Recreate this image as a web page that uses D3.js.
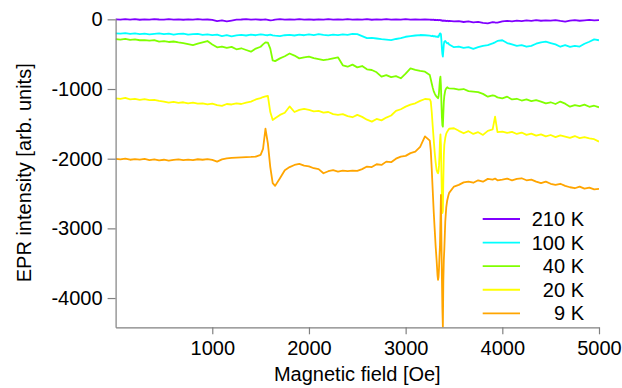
<!DOCTYPE html>
<html><head><meta charset="utf-8">
<script src="https://cdn.jsdelivr.net/npm/d3@7"></script>
<style>
body{margin:0;background:#fff;}
text{font-family:"Liberation Sans",Arial,sans-serif;}
</style></head>
<body><svg id="chart" width="622" height="388"></svg>
<script>
// Magnetic field sampling grid [Oe]
const field = [
  0,50,100,150,200,250,300,350,400,450,
  500,550,600,650,700,750,800,850,900,950,
  1000,1050,1100,1150,1200,1250,1300,1350,1400,1450,
  1500,1525,1550,1575,1600,1625,1650,
  1700,1750,1800,1850,1900,1950,2000,2050,2100,2150,
  2200,2250,2300,2350,2400,2450,2500,2550,2600,2650,
  2700,2750,2800,2850,2900,2950,3000,3050,3100,3150,
  3200,3250,
  3260,3270,3280,3290,3300,3310,3320,3330,3335,
  3340,3345,3350,3355,3360,3365,3370,3375,3380,
  3385,3390,3395,3400,3410,3420,3430,3440,3450,
  3500,3550,3600,3650,3700,3750,3800,3850,3900,3925,
  3950,4000,4050,4100,4150,4200,4250,4300,4350,4400,
  4450,4500,4550,4600,4650,4700,4750,4800,4850,4900,
  4950,5000
];
const seriesNames = ["210 K","100 K","40 K","20 K","9 K"];
const seriesColors = ["#8000ff","#00ffff","#80ff00","#ffff00","#ffa500"];
const epr210K = [
  0,-5,3,-4,2,-6,0,-3,4,-2,
  -5,2,-3,0,-6,1,-4,2,-5,-2,
  -8,-25,-15,-30,-18,-5,-2,3,-4,0,
  -6,-3,-2,-8,-15,-12,-5,
  2,-3,0,-5,2,-4,0,-6,1,-3,
  3,-4,0,-5,2,-3,0,-4,2,-6,
  0,-3,3,-5,0,-4,2,-3,0,-5,
  -2,-4,
  -6,-3,-8,-5,-10,-6,-12,-8,-10,
  -14,-10,-12,-8,-15,-10,-14,-18,-22,
  -15,-20,-16,-22,-18,-25,-20,-28,-22,
  -30,-25,-38,-30,-42,-35,-50,-57,-40,-45,
  -48,-30,-22,-28,-18,-25,-15,-22,-12,-20,
  -14,-18,-10,-22,-32,-18,-12,-20,-14,-8,
  -15,-10
];
const epr100K = [
  -200,-205,-198,-210,-202,-212,-205,-215,-208,-200,
  -212,-205,-218,-210,-205,-220,-212,-208,-222,-215,
  -225,-218,-240,-228,-245,-230,-222,-232,-220,-228,
  -215,-220,-225,-228,-218,-230,-235,
  -240,-228,-222,-232,-220,-228,-215,-225,-212,-222,
  -230,-218,-228,-215,-222,-210,-212,-240,-270,-265,
  -275,-285,-290,-297,-282,-270,-250,-240,-232,-225,
  -228,-235,
  -238,-242,-235,-245,-240,-248,-250,-245,-255,
  -250,-235,-215,-200,-200,-215,-300,-420,-500,
  -536,-450,-360,-320,-310,-330,-345,-340,-360,
  -400,-390,-410,-400,-425,-400,-380,-370,-345,-330,
  -310,-300,-340,-360,-380,-370,-393,-380,-350,-330,
  -321,-340,-360,-393,-370,-395,-380,-390,-350,-321,
  -287,-300
];
const epr40K = [
  -283,-290,-280,-295,-288,-300,-297,-305,-298,-320,
  -312,-325,-318,-330,-340,-355,-369,-350,-330,-311,
  -360,-402,-390,-410,-395,-430,-415,-440,-464,-420,
  -393,-360,-330,-335,-420,-590,-600,
  -560,-530,-490,-520,-560,-545,-536,-555,-570,-584,
  -575,-560,-545,-660,-680,-650,-689,-670,-717,-727,
  -760,-823,-800,-830,-815,-846,-780,-703,-725,-740,
  -751,-800,
  -860,-920,-980,-1030,-1062,-1090,-1110,-1125,-1133,
  -1110,-1050,-950,-860,-823,-950,-1200,-1400,-1520,
  -1540,-1350,-1180,-1100,-1020,-990,-975,-985,-990,
  -995,-1010,-1000,-1030,-1038,-1045,-1070,-1110,-1090,-1100,
  -1120,-1133,-1110,-1150,-1140,-1165,-1150,-1175,-1160,-1180,
  -1205,-1190,-1215,-1180,-1210,-1253,-1230,-1245,-1225,-1255,
  -1240,-1262
];
const epr20K = [
  -1133,-1140,-1128,-1148,-1140,-1155,-1145,-1160,-1157,-1170,
  -1180,-1196,-1185,-1198,-1190,-1205,-1195,-1210,-1205,-1220,
  -1210,-1230,-1243,-1215,-1222,-1205,-1215,-1196,-1180,-1150,
  -1130,-1115,-1105,-1100,-1330,-1444,-1420,
  -1372,-1340,-1250,-1330,-1300,-1285,-1300,-1320,-1315,-1340,
  -1330,-1360,-1372,-1360,-1390,-1405,-1372,-1400,-1440,-1468,
  -1430,-1450,-1410,-1380,-1315,-1290,-1253,-1225,-1205,-1170,
  -1143,-1150,
  -1180,-1330,-1530,-1720,-1900,-2050,-2161,-2200,-2209,
  -2180,-2100,-1950,-1750,-1650,-1800,-2200,-2550,-2780,
  -2750,-2300,-1950,-1802,-1700,-1640,-1612,-1590,-1570,
  -1563,-1600,-1635,-1605,-1645,-1620,-1659,-1600,-1580,-1397,
  -1620,-1612,-1630,-1615,-1645,-1625,-1659,-1640,-1670,-1650,
  -1680,-1660,-1690,-1665,-1683,-1700,-1675,-1705,-1690,-1707,
  -1720,-1755
];
const epr9K = [
  -2003,-2010,-1998,-2015,-2005,-2012,-2003,-2020,-2010,-2025,
  -2015,-2027,-2018,-2010,-2022,-2012,-2020,-2008,-2015,-2005,
  -2018,-2042,-2010,-1995,-1988,-1985,-1982,-1978,-1975,-1970,
  -1946,-1860,-1570,-1780,-2120,-2350,-2390,
  -2280,-2165,-2120,-2090,-2075,-2100,-2110,-2137,-2150,-2209,
  -2180,-2165,-2185,-2170,-2180,-2171,-2175,-2150,-2113,-2120,
  -2080,-2090,-2042,-2050,-2000,-1970,-1960,-1920,-1899,-1830,
  -1680,-1740,
  -1880,-2150,-2450,-2750,-3000,-3250,-3450,-3680,-3739,
  -3700,-3580,-3400,-3250,-2900,-2520,-3150,-3700,-4150,
  -4420,-3750,-3450,-3300,-2900,-2700,-2600,-2540,-2490,
  -2400,-2376,-2340,-2329,-2345,-2310,-2330,-2290,-2300,-2285,
  -2310,-2300,-2285,-2310,-2290,-2281,-2310,-2300,-2330,-2352,
  -2330,-2360,-2376,-2360,-2390,-2410,-2424,-2400,-2430,-2415,
  -2440,-2434
];
const xTicks = [1000,2000,3000,4000,5000];
const yTicks = [0,-1000,-2000,-3000,-4000];
const xTitle = "Magnetic field [Oe]";
const yTitle = "EPR intensity [arb. units]";

const series = [epr210K, epr100K, epr40K, epr20K, epr9K];

const svg = d3.select("#chart");
const pLeft = 115.6, pRight = 599, pTop = 18.3, pBottom = 327.3;
const x = d3.scaleLinear().domain([0,5000]).range([pLeft,pRight]);
const y = d3.scaleLinear().domain([-4420,15]).range([pBottom,pTop]);
const axisColor = "#808080";
const fs = 20;

svg.append("defs").append("clipPath").attr("id","clip")
  .append("rect").attr("x",pLeft).attr("y",pTop-5).attr("width",pRight-pLeft).attr("height",pBottom-pTop+5);

const line = d3.line().x((d,i)=>x(field[i])).y(d=>y(d));
const g = svg.append("g").attr("clip-path","url(#clip)");
series.forEach((s,k)=>{
  g.append("path").datum(s).attr("d",line)
    .attr("fill","none").attr("stroke",seriesColors[k])
    .attr("stroke-width",1.8).attr("stroke-linejoin","round");
});

const xAxis = svg.append("g").attr("transform",`translate(0,${pBottom})`)
  .call(d3.axisBottom(x).tickValues(xTicks).tickSize(7).tickSizeOuter(0).tickPadding(7).tickFormat(d3.format("d")));
const yAxis = svg.append("g").attr("transform",`translate(${pLeft},0)`)
  .call(d3.axisLeft(y).tickValues(yTicks).tickSize(8).tickSizeOuter(0).tickPadding(5).tickFormat(d3.format("d")));
[xAxis,yAxis].forEach(a=>{
  a.select(".domain").attr("stroke",axisColor).attr("stroke-width",1.2);
  a.selectAll(".tick line").attr("stroke",axisColor).attr("stroke-width",1.2);
  a.selectAll(".tick text").attr("fill","#000").style("font-size",fs+"px")
    .style("font-family","'Liberation Sans',Arial,sans-serif");
});
yAxis.selectAll(".tick text").text(d=>d3.format("d")(d).replace("\u2212","-"));

svg.append("text").attr("x",(pLeft+pRight)/2).attr("y",381)
  .attr("text-anchor","middle").style("font-size",fs+"px").attr("fill","#000").text(xTitle);
svg.append("text").attr("transform",`translate(31,${(pTop+pBottom)/2}) rotate(-90)`)
  .attr("text-anchor","middle").style("font-size",fs+"px").attr("fill","#000").text(yTitle);

const legY = d3.scalePoint().domain(seriesNames).range([219,313.3]);
const leg = svg.append("g");
seriesNames.forEach((n,k)=>{
  leg.append("line").attr("x1",482.7).attr("x2",520).attr("y1",legY(n)).attr("y2",legY(n))
    .attr("stroke",seriesColors[k]).attr("stroke-width",1.8);
  leg.append("text").attr("x",584).attr("y",legY(n)).attr("dy","0.35em")
    .attr("text-anchor","end").style("font-size",fs+"px").attr("fill","#000").text(n);
});
</script></body></html>
